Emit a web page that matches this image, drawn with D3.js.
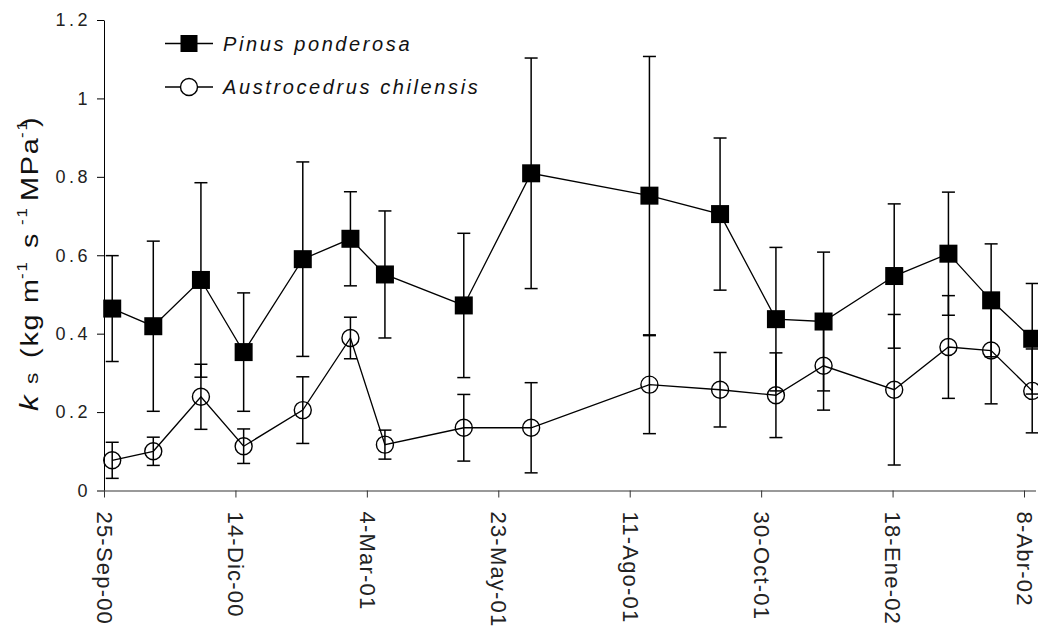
<!DOCTYPE html>
<html>
<head>
<meta charset="utf-8">
<script src="https://cdn.jsdelivr.net/npm/d3@7"></script>
<style>
  body { margin: 0; background: #fff; }
  svg { display: block; font-family: Arial, "Liberation Sans", sans-serif; }
</style>
</head>
<body>
<svg id="chart" width="1038" height="627"></svg>
<script>
// sampling dates
const dates = ["2000-09-30", "2000-10-25", "2000-11-23", "2000-12-19", "2001-01-24", "2001-02-22",
  "2001-03-15", "2001-05-02", "2001-06-12", "2001-08-23", "2001-10-05", "2001-11-08",
  "2001-12-07", "2002-01-19", "2002-02-21", "2002-03-19", "2002-04-13"]

// Pinus ponderosa
const pinus = [0.464, 0.419, 0.537, 0.353, 0.590, 0.642, 0.551, 0.472, 0.809, 0.752, 0.705,
  0.437, 0.431, 0.547, 0.604, 0.485, 0.387]
const pinusErr = [0.135, 0.217, 0.248, 0.151, 0.248, 0.120, 0.162, 0.184, 0.294, 0.355, 0.194,
  0.183, 0.177, 0.184, 0.157, 0.144, 0.141]

// Austrocedrus chilensis
const austro = [0.077, 0.100, 0.239, 0.113, 0.205, 0.389, 0.117, 0.160, 0.160, 0.270, 0.257,
  0.243, 0.318, 0.257, 0.366, 0.357, 0.254]
const austroErr = [0.046, 0.036, 0.083, 0.044, 0.085, 0.053, 0.037, 0.085, 0.115, 0.125, 0.095,
  0.108, 0.113, 0.192, 0.131, 0.136, 0.107]

// x ticks every 80 days
const xTickDates = ["2000-09-25", "2000-12-14", "2001-03-04", "2001-05-23", "2001-08-11",
  "2001-10-30", "2002-01-18", "2002-04-08"]
const xTickLabels = ["25-Sep-00", "14-Dic-00", "4-Mar-01", "23-May-01", "11-Ago-01",
  "30-Oct-01", "18-Ene-02", "8-Abr-02"]
const yTicks = [0, 0.2, 0.4, 0.6, 0.8, 1, 1.2]

const parse = d3.utcParse("%Y-%m-%d")
const svg = d3.select("#chart")

const x = d3.scaleUtc()
    .domain([parse("2000-09-25"), parse("2002-04-15")])
    .range([104, 1035.5])
const y = d3.scaleLinear()
    .domain([0, 1.2])
    .range([490.5, 20])

// y axis
const yAxis = svg.append("g")
    .attr("transform", "translate(104,0)")
    .call(d3.axisLeft(y).tickValues(yTicks).tickFormat(d3.format("")).tickSize(7).tickSizeOuter(0))
yAxis.select(".domain").attr("stroke", "#000")
yAxis.selectAll("text")
    .attr("font-size", 18)
    .attr("letter-spacing", 3.5)
    .attr("fill", "#222")
    .attr("dx", "-3")

// x axis
const xAxis = svg.append("g")
    .attr("transform", "translate(0," + y(0) + ")")
    .call(d3.axisBottom(x).tickValues(xTickDates.map(parse))
      .tickFormat((d, i) => xTickLabels[i]).tickSize(7).tickSizeOuter(0))
xAxis.select(".domain").attr("stroke", "#777").attr("stroke-width", 1.5)
xAxis.selectAll(".tick line").attr("stroke", "#333")
xAxis.selectAll("text")
    .attr("font-size", 22)
    .attr("letter-spacing", 1.2)
    .attr("fill", "#222")
    .attr("transform", "rotate(90)")
    .attr("text-anchor", "start")
    .attr("x", 21)
    .attr("y", 0)
    .attr("dy", "0.35em")

// y axis title, rotated and a bit stretched along the run like the original
const stretch = 1.2
const title = svg.append("text")
    .attr("transform", "translate(38,0) rotate(-90) scale(" + stretch + ",1)")
    .attr("font-size", 24)
    .attr("letter-spacing", 1.5)
    .attr("fill", "#111")
const parts = [
  { t: "k", at: 411, size: 26, italic: true },
  { t: "s", at: 384, size: 19 },
  { t: "(kg", at: 358 },
  { t: "m", at: 303 },
  { t: "-1", at: 279, size: 14, sup: true },
  { t: "s", at: 248 },
  { t: "-1", at: 225, size: 14, sup: true },
  { t: "MPa", at: 201 },
  { t: "-1", at: 138, size: 14, sup: true },
  { t: ")", at: 127 }
]
parts.forEach(p => {
  title.append("tspan")
      .attr("x", -p.at / stretch)
      .attr("y", p.sup ? -11 : 0)
      .attr("font-size", p.size || 24)
      .attr("font-style", p.italic ? "italic" : null)
      .text(p.t)
})

const rows = dates.map((d, i) => ({
  date: parse(d),
  p: pinus[i], pe: pinusErr[i],
  a: austro[i], ae: austroErr[i]
}))

const line = d3.line().x(d => x(d.date))

function errorBars(key, err) {
  const g = svg.append("g").attr("stroke", "#000").attr("stroke-width", 1.5)
  g.selectAll("line.v").data(rows).enter().append("line")
      .attr("x1", d => x(d.date)).attr("x2", d => x(d.date))
      .attr("y1", d => y(d[key] + d[err])).attr("y2", d => y(d[key] - d[err]))
  g.selectAll("line.t").data(rows).enter().append("line")
      .attr("x1", d => x(d.date) - 6.5).attr("x2", d => x(d.date) + 6.5)
      .attr("y1", d => y(d[key] + d[err])).attr("y2", d => y(d[key] + d[err]))
  g.selectAll("line.b").data(rows).enter().append("line")
      .attr("x1", d => x(d.date) - 6.5).attr("x2", d => x(d.date) + 6.5)
      .attr("y1", d => y(d[key] - d[err])).attr("y2", d => y(d[key] - d[err]))
}

errorBars("a", "ae")
errorBars("p", "pe")

// Austrocedrus series
svg.append("path")
    .datum(rows)
    .attr("fill", "none")
    .attr("stroke", "#000")
    .attr("stroke-width", 1.3)
    .attr("d", line.y(d => y(d.a)))
svg.selectAll("circle.a").data(rows).enter().append("circle")
    .attr("cx", d => x(d.date))
    .attr("cy", d => y(d.a))
    .attr("r", 8.5)
    .attr("fill", "none")
    .attr("stroke", "#000")
    .attr("stroke-width", 1.4)

// Pinus series
svg.append("path")
    .datum(rows)
    .attr("fill", "none")
    .attr("stroke", "#000")
    .attr("stroke-width", 1.3)
    .attr("d", line.y(d => y(d.p)))
svg.selectAll("rect.p").data(rows).enter().append("rect")
    .attr("x", d => x(d.date) - 9)
    .attr("y", d => y(d.p) - 9)
    .attr("width", 18)
    .attr("height", 18)
    .attr("fill", "#000")

// legend
const legend = svg.append("g")
const lg1 = legend.append("g").attr("transform", "translate(0,43.5)")
lg1.append("line").attr("x1", 165).attr("x2", 213).attr("stroke", "#000").attr("stroke-width", 1.4)
lg1.append("rect").attr("x", 180.5).attr("y", -8.5).attr("width", 17).attr("height", 17).attr("fill", "#000")
lg1.append("text").attr("x", 223).attr("dy", "0.35em").attr("font-size", 20)
    .attr("letter-spacing", 2.6)
    .attr("font-style", "italic").attr("fill", "#111").text("Pinus ponderosa")

const lg2 = legend.append("g").attr("transform", "translate(0,87)")
lg2.append("line").attr("x1", 165).attr("x2", 213).attr("stroke", "#000").attr("stroke-width", 1.4)
lg2.append("circle").attr("cx", 189).attr("r", 8.5).attr("fill", "#fff").attr("stroke", "#000").attr("stroke-width", 1.4)
lg2.append("text").attr("x", 223).attr("dy", "0.35em").attr("font-size", 20)
    .attr("letter-spacing", 2.6)
    .attr("font-style", "italic").attr("fill", "#111").text("Austrocedrus chilensis")
</script>
</body>
</html>
